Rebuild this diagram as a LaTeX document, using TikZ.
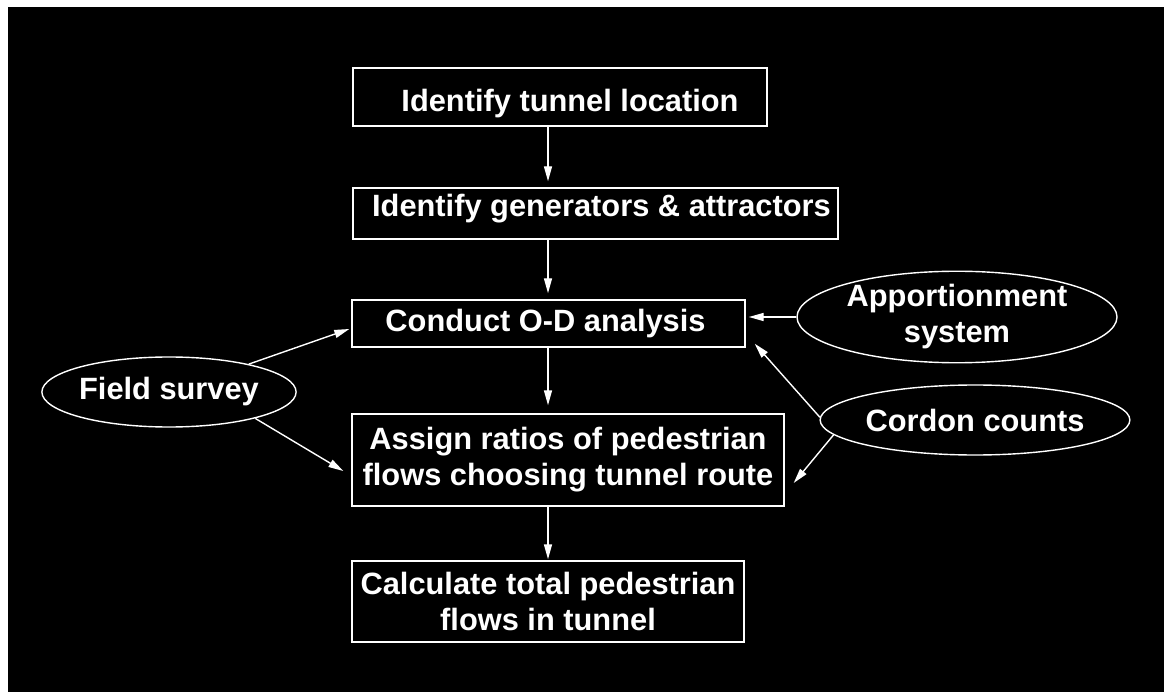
\documentclass[tikz,border=0pt]{standalone}
\usepackage{fontspec}
\setmainfont{Liberation Sans}
\usetikzlibrary{arrows.meta,shapes.geometric,calc}
\begin{document}
\begin{tikzpicture}[x=1pt,y=-1pt,
  every node/.style={text=white,font=\fontsize{30.8}{36}\selectfont\bfseries,align=center,inner sep=0pt},
  stepbox/.style={draw=white,line width=1.4pt,rectangle},
  inbox/.style={draw=white,line width=1.4pt,ellipse},
  arr/.style={draw=white,line width=1.4pt,-{Triangle[length=15pt,width=8pt]}}]
\useasboundingbox (0,0) rectangle (1164,692);
\fill[white] (0,0) rectangle (1164,692);
\fill[black] (7.5,7.5) rectangle (1164,692);

\node[stepbox,minimum width=414pt,minimum height=58pt] (b1) at (560,97) {\hspace*{20pt}\raisebox{-7pt}[\height][\depth]{Identify tunnel location}};
\node[stepbox,minimum width=485pt,minimum height=51pt] (b2) at (595.5,213.5) {\hspace*{12pt}\raisebox{5pt}[\height][\depth]{Identify generators \& attractors}};
\node[stepbox,minimum width=393pt,minimum height=47pt] (b3) at (548.5,323.5) {Conduct O-D analysis\hspace*{6pt}};
\node[stepbox,minimum width=432pt,minimum height=92pt] (b4) at (568,460) {Assign ratios of pedestrian\\flows choosing tunnel route};
\node[stepbox,minimum width=392pt,minimum height=81pt] (b5) at (548,601.5) {Calculate total pedestrian\\flows in tunnel};

\node[inbox,minimum width=221pt,minimum height=70pt] (fs) at (169,392) {Field survey};
\node[inbox,minimum width=320pt,minimum height=91pt] (ap) at (957,317) {Apportionment\\system};
\node[inbox,minimum width=266pt,minimum height=70pt] (co) at (975,420) {Cordon counts};

\coordinate (ax) at (548,0);
\draw[arr,shorten >=6pt] (b1.south -| ax) -- (b2.north -| ax);
\draw[arr,shorten >=6pt] (b2.south -| ax) -- (b3.north -| ax);
\draw[arr,shorten >=8pt] (b3.south -| ax) -- (b4.north -| ax);
\draw[arr,shorten >=1pt] (b4.south -| ax) -- (b5.north -| ax);

\coordinate (t3l) at ($(b3.west)+(-2,5.5)$);
\coordinate (t4l) at ($(b4.west)+(-8,11)$);
\coordinate (t3a) at ($(b3.east)+(3,0)$);
\coordinate (t3c) at ($(b3.south east)+(9,-4)$);
\coordinate (t4r) at ($(b4.east)+(9,23)$);

\draw[arr] (fs) -- (t3l);
\draw[arr] (fs.-17) -- (t4l);
\draw[arr] (ap.west) -- (ap.west -| t3a);
\draw[arr] (co.179) -- (t3c);
\draw[arr] (co.186) -- (t4r);
\end{tikzpicture}
\end{document}
